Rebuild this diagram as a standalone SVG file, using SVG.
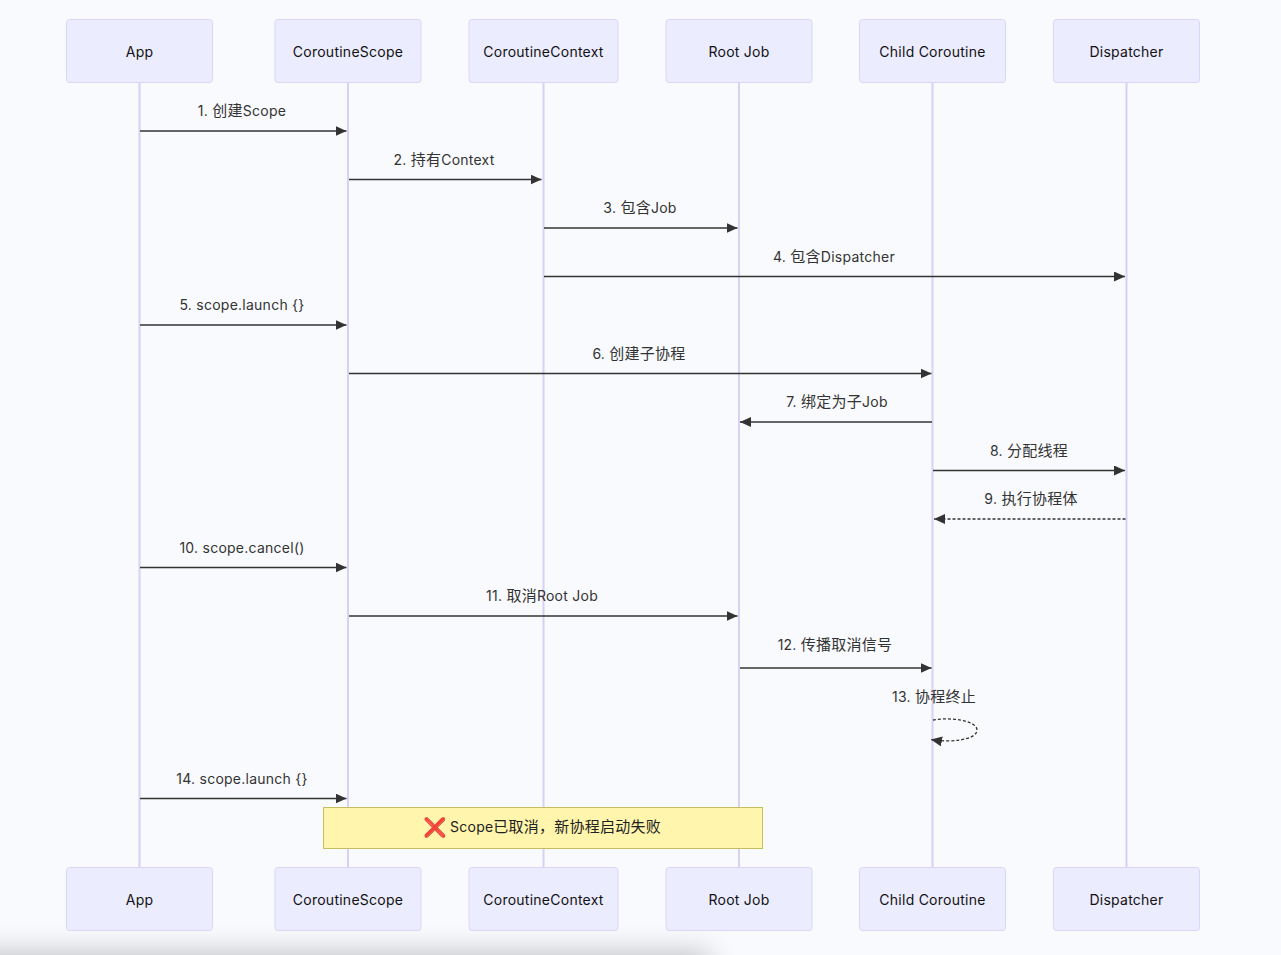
<svg xmlns="http://www.w3.org/2000/svg" width="1281" height="955" viewBox="0 0 1281 955">
<style>
text{font-family:"Inter","Noto Sans CJK SC",sans-serif;letter-spacing:.25px;}
.box{fill:#ECECFF;stroke:#DDD4F7;stroke-width:1;}
.life{stroke:#DAD0F6;stroke-width:2;fill:none;}
.an{font-size:14px;fill:#111;text-anchor:middle;dominant-baseline:central;}
.m{font-size:14px;fill:#333;text-anchor:middle;}
.z{font-size:15px;}
.c{stroke:#333;stroke-width:1.3;fill:none;}
.d{stroke-dasharray:3 2;}
</style>
<defs>
<marker id="ah" markerUnits="userSpaceOnUse" markerWidth="12" markerHeight="12" refX="11" refY="5" orient="auto"><path d="M0 0L11 5L0 10z" fill="#333"/></marker>
<filter id="b" x="-20%" y="-200%" width="140%" height="500%"><feGaussianBlur stdDeviation="14"/></filter>
</defs>
<rect width="1281" height="955" fill="#F9FAFD"/>
<rect x="-60" y="952" width="770" height="40" fill="#000" opacity="0.22" filter="url(#b)"/>
<g id="lifelines">
<path class="life" d="M139.500 82V868M348 82V868M543.500 82V868M739 82V868M932.500 82V868M1126.500 82V868"/>
</g>
<g id="connectors">
<path class="c" marker-end="url(#ah)" d="M140 131H346.500"/>
<path class="c" marker-end="url(#ah)" d="M349 179.500H541.500"/>
<path class="c" marker-end="url(#ah)" d="M544 228H737.500"/>
<path class="c" marker-end="url(#ah)" d="M544 276.500H1125"/>
<path class="c" marker-end="url(#ah)" d="M140 325H346.500"/>
<path class="c" marker-end="url(#ah)" d="M349 373.500H931.500"/>
<path class="c" marker-end="url(#ah)" d="M932 422H740"/>
<path class="c" marker-end="url(#ah)" d="M933 470.500H1125"/>
<path class="c d" marker-end="url(#ah)" d="M1125.500 519H934"/>
<path class="c" marker-end="url(#ah)" d="M140 567.500H346.500"/>
<path class="c" marker-end="url(#ah)" d="M349 616H737.500"/>
<path class="c" marker-end="url(#ah)" d="M740 668H931.500"/>
<path class="c d" marker-end="url(#ah)" d="M933 720C948 717 977 720 977 730C977 740 950 743 931 739.500"/>
<path class="c" marker-end="url(#ah)" d="M140 798.500H346.500"/>
</g>
<g id="labels">
<text class="m" x="242" y="116">1. <tspan class="z">创建</tspan>Scope</text>
<text class="m" x="444" y="165">2. <tspan class="z">持有</tspan>Context</text>
<text class="m" x="640" y="213">3. <tspan class="z">包含</tspan>Job</text>
<text class="m" x="834" y="262">4. <tspan class="z">包含</tspan>Dispatcher</text>
<text class="m" x="242" y="310">5. scope.launch {}</text>
<text class="m" x="639" y="359">6. <tspan class="z">创建子协程</tspan></text>
<text class="m" x="837" y="407">7. <tspan class="z">绑定为子</tspan>Job</text>
<text class="m" x="1029" y="456">8. <tspan class="z">分配线程</tspan></text>
<text class="m" x="1031" y="504">9. <tspan class="z">执行协程体</tspan></text>
<text class="m" x="242" y="553">10. scope.cancel()</text>
<text class="m" x="542" y="601">11. <tspan class="z">取消</tspan>Root Job</text>
<text class="m" x="835" y="650">12. <tspan class="z">传播取消信号</tspan></text>
<text class="m" x="934" y="702">13. <tspan class="z">协程终止</tspan></text>
<text class="m" x="242" y="784">14. scope.launch {}</text>
</g>
<g id="note">
<rect x="323.500" y="807.500" width="439" height="41" fill="#FFF5AD" stroke="#C4BE5E"/>
<text x="435" y="834" font-size="19" fill="#E8101A" text-anchor="middle">❌</text>
<text x="450" y="832" font-size="14" fill="#222">Scope<tspan class="z">已取消，新协程启动失败</tspan></text>
</g>
<g id="actor-app-top"><rect class="box" x="66.500" y="19.500" width="146" height="63" rx="3"/><text class="an" x="139.500" y="51">App</text></g>
<g id="actor-scope-top"><rect class="box" x="275" y="19.500" width="146" height="63" rx="3"/><text class="an" x="348" y="51">CoroutineScope</text></g>
<g id="actor-context-top"><rect class="box" x="469" y="19.500" width="149" height="63" rx="3"/><text class="an" x="543.500" y="51">CoroutineContext</text></g>
<g id="actor-root-top"><rect class="box" x="666" y="19.500" width="146" height="63" rx="3"/><text class="an" x="739" y="51">Root Job</text></g>
<g id="actor-child-top"><rect class="box" x="859.500" y="19.500" width="146" height="63" rx="3"/><text class="an" x="932.500" y="51">Child Coroutine</text></g>
<g id="actor-disp-top"><rect class="box" x="1053.500" y="19.500" width="146" height="63" rx="3"/><text class="an" x="1126.500" y="51">Dispatcher</text></g>
<g id="actor-app-bottom"><rect class="box" x="66.500" y="867.500" width="146" height="63" rx="3"/><text class="an" x="139.500" y="899">App</text></g>
<g id="actor-scope-bottom"><rect class="box" x="275" y="867.500" width="146" height="63" rx="3"/><text class="an" x="348" y="899">CoroutineScope</text></g>
<g id="actor-context-bottom"><rect class="box" x="469" y="867.500" width="149" height="63" rx="3"/><text class="an" x="543.500" y="899">CoroutineContext</text></g>
<g id="actor-root-bottom"><rect class="box" x="666" y="867.500" width="146" height="63" rx="3"/><text class="an" x="739" y="899">Root Job</text></g>
<g id="actor-child-bottom"><rect class="box" x="859.500" y="867.500" width="146" height="63" rx="3"/><text class="an" x="932.500" y="899">Child Coroutine</text></g>
<g id="actor-disp-bottom"><rect class="box" x="1053.500" y="867.500" width="146" height="63" rx="3"/><text class="an" x="1126.500" y="899">Dispatcher</text></g>
</svg>
